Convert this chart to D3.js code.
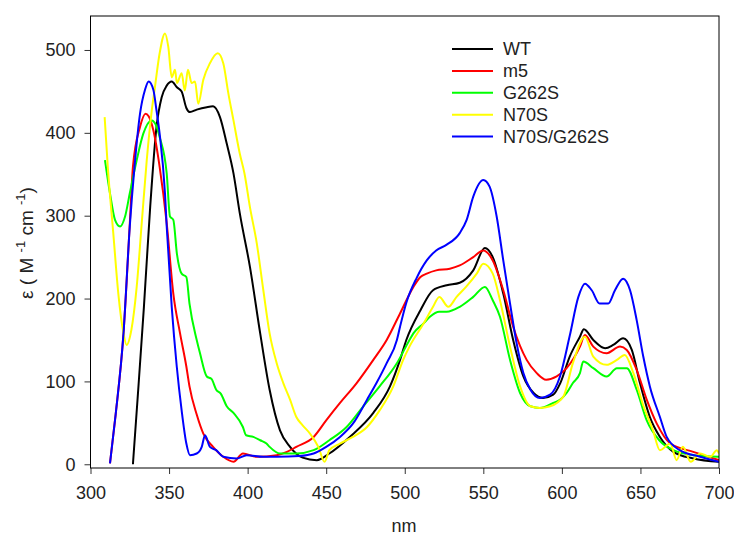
<!DOCTYPE html>
<html>
<head>
  <meta charset="utf-8">
  <style>
    body { margin: 0; background: #fff; }
    text { font-family: "Liberation Sans", Arial, sans-serif; fill: #222; }
  </style>
</head>
<body>
<svg id="chart" width="734" height="538"></svg>
<script src="https://d3js.org/d3.v7.min.js"></script>
<script>
// series names / colours (legend order = draw order)
var seriesNames = ["WT", "m5", "G262S", "N70S", "N70S/G262S"];
var seriesColors = ["#000000", "#ff0000", "#00ff00", "#ffff00", "#0000ff"];

var xTicks = [300, 350, 400, 450, 500, 550, 600, 650, 700];
var yTicks = [0, 100, 200, 300, 400, 500];

// values (nm, epsilon)
var wtNm  = [327, 330, 334, 338, 342, 345.3, 348.5, 351.7, 355, 358, 361, 363.3, 367.6, 374, 378, 382.4, 386.7, 391, 395, 401.5, 408, 414, 420.6, 427, 435, 444, 452, 465, 480, 490.6, 497, 501, 510, 518, 526.7, 535, 543.6, 551, 556, 562.7, 569, 575.5, 582, 588, 594.5, 599, 605, 611.5, 614, 620, 627.5, 632.7, 639, 644.5, 649.7, 656, 662.4, 671, 683.6, 700];
var wtVal = [0, 80, 190, 311, 407, 443, 457, 462, 455, 450, 430, 425, 428, 431, 432, 419, 387, 351, 303, 238, 158, 90, 41, 21, 8, 5, 13, 33, 62, 94, 126, 150, 186, 210, 216, 219, 234, 261, 250, 206, 150, 106, 86, 80, 84, 98, 130, 154, 163, 150, 140, 144, 152, 138, 98, 57, 33, 15, 7, 3];

var m5Nm  = [312.4, 316, 321, 325, 327, 331.5, 335, 337, 340, 344, 348.5, 352.7, 357, 361, 363, 367.6, 371.8, 378, 384.5, 391, 397, 405.8, 418.5, 425, 431, 442, 450, 458.8, 469.4, 480, 488.5, 497, 505.5, 510, 514, 520, 528.7, 535, 543.6, 550, 556, 562.7, 569, 577.6, 584, 590, 596.7, 603, 611.5, 614.7, 620, 628.5, 637, 641.3, 647.6, 654, 660.4, 669, 683.6, 700];
var m5Val = [1, 60, 158, 290, 359, 407, 423, 420, 403, 359, 291, 206, 158, 118, 94, 60, 37, 21, 9, 3, 13, 9, 11, 15, 21, 33, 53, 74, 98, 126, 150, 182, 214, 226, 230, 234, 236, 240, 250, 258, 246, 210, 166, 126, 110, 102, 106, 116, 142, 156, 142, 134, 142, 138, 114, 78, 49, 25, 15, 5];

var g262sNm  = [309.2, 312.4, 315.6, 318.8, 322, 325, 329.4, 333.6, 339, 341.5, 344, 348.5, 350.6, 352.7, 355, 358, 361, 363, 367.6, 369.7, 374, 377, 380, 383, 386.7, 391, 397, 399, 403.6, 408, 412, 414, 420.6, 431, 442, 452, 463, 473.6, 484, 495, 503, 505.5, 512, 516, 522, 526.7, 535, 543.6, 551, 556, 560.6, 567, 573.4, 580, 586, 594.5, 599, 603, 607, 611.5, 613.6, 620, 628.5, 635, 641.3, 647.6, 654, 662, 671, 683.6, 700];
var g262sVal = [367, 327, 295, 287, 299, 327, 367, 399, 415, 410, 395, 351, 299, 295, 254, 230, 226, 194, 150, 134, 106, 103, 90, 85, 70, 62, 45, 35, 33, 29, 25, 21, 13, 13, 17, 29, 45, 70, 94, 122, 150, 158, 170, 178, 184, 184, 190, 202, 214, 198, 178, 126, 86, 70, 68, 74, 78, 86, 98, 110, 124, 116, 106, 116, 116, 90, 53, 29, 17, 11, 9];

var n70sNm  = [309, 311, 314.5, 317.7, 321, 323, 326, 329.4, 332.6, 335.8, 339, 341, 344, 347.4, 349.5, 351.7, 353.8, 355, 358, 360, 362, 364.4, 366.5, 368.6, 371.8, 376, 381, 384.5, 387.7, 391, 395, 398, 401.5, 405.8, 410, 414, 418.5, 422.7, 427, 431, 435, 439.7, 445, 449, 452, 458.8, 467, 476, 484, 492.7, 499, 503, 512, 518, 522, 527.7, 533, 539, 545.8, 550, 556, 560.6, 567, 573.4, 580, 586, 592.5, 601, 607, 614.7, 620, 628.5, 635, 640, 645.5, 652, 658, 662.4, 669, 673, 677, 682, 688, 694.5, 698.6, 700];
var n70sVal = [419, 359, 279, 206, 158, 144, 162, 214, 291, 367, 427, 455, 496, 520, 504, 467, 476, 460, 472, 451, 476, 460, 462, 435, 464, 484, 496, 484, 448, 415, 375, 351, 310, 267, 210, 158, 122, 98, 78, 57, 47, 37, 21, 3, 17, 25, 33, 45, 65, 94, 126, 142, 170, 190, 202, 190, 202, 214, 230, 242, 230, 198, 142, 94, 70, 68, 70, 82, 122, 154, 130, 120, 126, 132, 110, 70, 41, 17, 25, 5, 21, 3, 13, 9, 17, 13];

var dblNm  = [312.4, 316, 321, 325, 328, 331.5, 334.7, 337, 340, 342, 344, 347.4, 348.5, 351.7, 354.9, 358, 361, 363.3, 367.6, 370.8, 372.9, 376, 380, 384.5, 393, 399.4, 410, 418.5, 433, 442, 450, 458.8, 467, 476, 482, 488.5, 495, 497, 501, 507.6, 514, 520, 526.7, 535, 539.4, 543.6, 550, 554, 558.5, 562.7, 567, 571.2, 575.5, 580, 586, 592.5, 598.8, 605, 610.5, 614.7, 619, 624, 629.5, 633.8, 639, 643.4, 647.6, 651.8, 656, 662.4, 666.7, 675, 688, 700];
var dblVal = [1, 60, 158, 287, 359, 423, 452, 462, 452, 427, 399, 327, 287, 190, 118, 65, 25, 11, 13, 21, 35, 21, 17, 9, 7, 11, 9, 9, 10, 13, 21, 33, 49, 78, 98, 122, 150, 166, 195, 225, 246, 258, 265, 279, 295, 323, 343, 335, 299, 246, 194, 146, 110, 90, 80, 84, 106, 155, 202, 218, 210, 194, 194, 210, 224, 210, 174, 130, 94, 57, 33, 17, 9, 3];

var seriesNm  = [wtNm, m5Nm, g262sNm, n70sNm, dblNm];
var seriesVal = [wtVal, m5Val, g262sVal, n70sVal, dblVal];

var plotLeft = 90.5, plotRight = 719, plotTop = 16, plotBottom = 468;
var fontSize = 18;

var svg = d3.select("#chart");

var x = d3.scaleLinear().domain([300, 700]).range([plotLeft, plotRight]);
var y = d3.scaleLinear().domain([-4.5, 541]).range([plotBottom, plotTop]);

svg.append("clipPath").attr("id", "plotclip")
  .append("rect")
    .attr("x", plotLeft).attr("y", plotTop)
    .attr("width", plotRight - plotLeft).attr("height", plotBottom - plotTop);

// axes
var xAxis = d3.axisBottom(x).tickValues(xTicks).tickSize(6).tickPadding(12)
    .tickFormat(d3.format("d"));
var yAxis = d3.axisLeft(y).tickValues(yTicks).tickSize(6).tickPadding(9)
    .tickFormat(d3.format("d"));

var gx = svg.append("g")
    .attr("transform", "translate(0," + plotBottom + ")")
    .call(xAxis);
var gy = svg.append("g")
    .attr("transform", "translate(" + plotLeft + ",0)")
    .call(yAxis);

[gx, gy].forEach(function(g) {
  g.select(".domain").remove();
  g.selectAll(".tick line").attr("stroke", "#333");
  g.selectAll(".tick text")
    .attr("font-size", fontSize)
    .attr("font-family", "Liberation Sans, Arial, sans-serif")
    .attr("fill", "#222");
});

// lines
var line = d3.line()
    .x(function(d) { return x(d[0]); })
    .y(function(d) { return y(d[1]); })
    .curve(d3.curveMonotoneX);

var plot = svg.append("g").attr("clip-path", "url(#plotclip)");

seriesNames.forEach(function(name, i) {
  var pts = seriesNm[i].map(function(n, j) { return [n, seriesVal[i][j]]; });
  plot.append("path")
    .datum(pts)
    .attr("fill", "none")
    .attr("stroke", seriesColors[i])
    .attr("stroke-width", 2)
    .attr("stroke-linejoin", "round")
    .attr("d", line);
});

// frame
svg.append("rect")
  .attr("x", plotLeft).attr("y", plotTop)
  .attr("width", plotRight - plotLeft).attr("height", plotBottom - plotTop)
  .attr("fill", "none")
  .attr("stroke", "#000")
  .attr("stroke-width", 1);

// legend
var legend = svg.selectAll(".legend")
    .data(seriesNames)
  .enter().append("g")
    .attr("class", "legend")
    .attr("transform", function(d, i) { return "translate(0," + (49 + i * 21.9) + ")"; });

legend.append("line")
    .attr("x1", 452).attr("x2", 493)
    .attr("stroke", function(d, i) { return seriesColors[i]; })
    .attr("stroke-width", 2);

legend.append("text")
    .attr("x", 503)
    .attr("dy", "0.35em")
    .attr("font-size", fontSize)
    .text(function(d) { return d; });

// axis titles
svg.append("text")
    .attr("x", 404).attr("y", 532)
    .attr("text-anchor", "middle")
    .attr("font-size", fontSize)
    .text("nm");

var yt = svg.append("text")
    .attr("transform", "translate(33,243) rotate(-90)")
    .attr("text-anchor", "middle")
    .attr("font-size", 19);
yt.append("tspan").text("ε ( M  ");
yt.append("tspan").attr("dy", -8).attr("font-size", 13).text("-1");
yt.append("tspan").attr("dy", 8).text(" cm  ");
yt.append("tspan").attr("dy", -8).attr("font-size", 13).text("-1");
yt.append("tspan").attr("dy", 8).text(")");
</script>
</body>
</html>
